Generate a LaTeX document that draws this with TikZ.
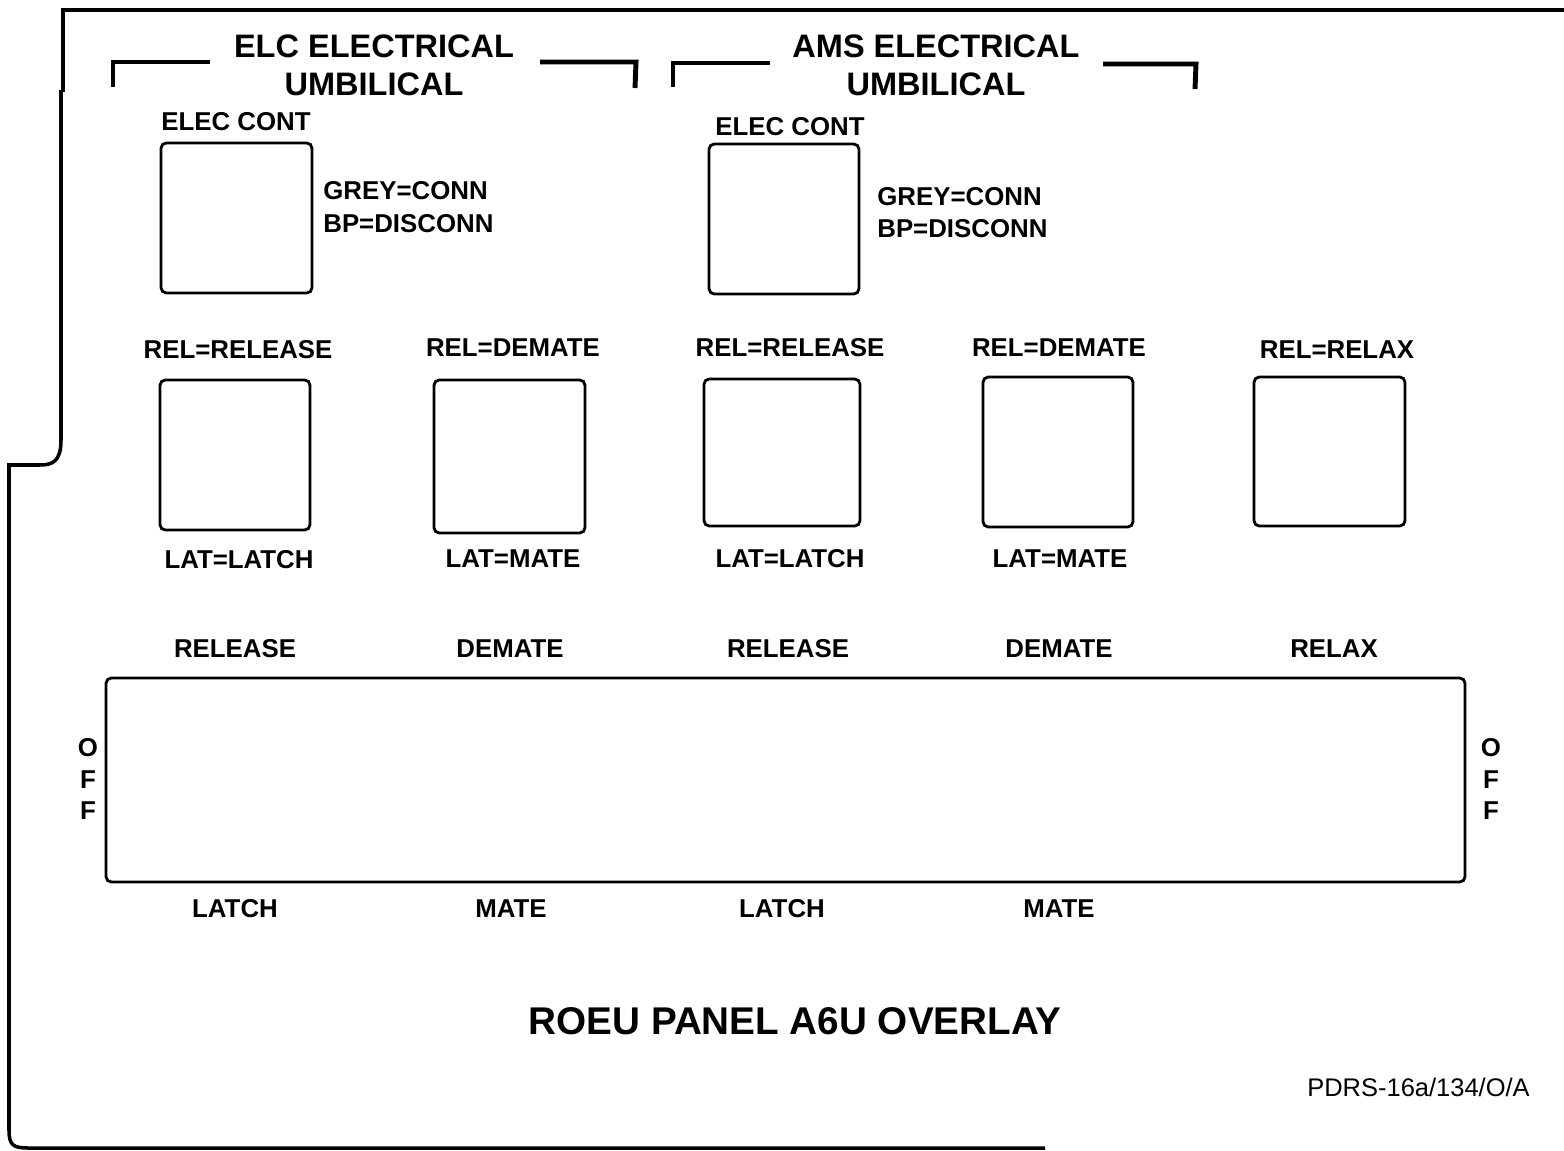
\documentclass[tikz,border=0pt]{standalone}
\usepackage{fontspec}
\setmainfont{Liberation Sans}
\tikzset{
  lbl/.style={font=\bfseries\fontsize{14.7}{18.2}\selectfont, inner sep=0pt},
  head/.style={font=\bfseries\fontsize{18.5}{21}\selectfont, inner sep=0pt},
  swbox/.style={line width=1.6pt, rounded corners=3pt},
  brk/.style={line width=2.8pt},
}
\begin{document}
\begin{tikzpicture}[x=0.02cm, y=-0.02cm]
  \useasboundingbox (0,0) rectangle (1564,1151);

  % panel outline
  \draw[line width=2.8pt] (63,92) -- (63,10) -- (1570,10);
  \draw[line width=2pt] (61,90) -- (61,440) .. controls (61,461) and (53,465) .. (40,465) -- (9,465)
    -- (9,1130) .. controls (9,1145) and (13,1148) .. (28,1148) -- (1045,1148);

  % headings with brackets
  \node[head] (elchead) at (374,46) {ELC ELECTRICAL};
  \node[head] (elcumb) at (374,84) {UMBILICAL};
  \node[head] (amshead) at (936,46) {AMS ELECTRICAL};
  \node[head] (amsumb) at (936,84) {UMBILICAL};
  \draw[brk] (113,87) -- (113,62) -- (210,62);
  \draw[brk] (540,62) -- (636,62) -- (635,88);
  \draw[brk] (673,87) -- (673,63) -- (770,63);
  \draw[brk] (1103,64) -- (1196,64) -- (1195,89);

  % electrical contact indicators
  \node[lbl] (elccont) at (236,122) {ELEC CONT};
  \draw[swbox] (161,143) rectangle (312,293);
  \node[lbl, anchor=west] (elcgrey) at (323,191) {GREY=CONN};
  \node[lbl, anchor=west] (elcbp) at (323,224) {BP=DISCONN};

  \node[lbl] (amscont) at (790,127) {ELEC CONT};
  \draw[swbox] (709,144) rectangle (859,294);
  \node[lbl, anchor=west] (amsgrey) at (877,197) {GREY=CONN};
  \node[lbl, anchor=west] (amsbp) at (877,229) {BP=DISCONN};

  % talkback indicators
  \node[lbl] (rel1) at (238,350) {REL=RELEASE};
  \draw[swbox] (160,380) rectangle (310,530);
  \node[lbl] (lat1) at (239,560) {LAT=LATCH};

  \node[lbl] (rel2) at (513,348) {REL=DEMATE};
  \draw[swbox] (434,380) rectangle (585,533);
  \node[lbl] (lat2) at (513,559) {LAT=MATE};

  \node[lbl] (rel3) at (790,348) {REL=RELEASE};
  \draw[swbox] (704,379) rectangle (860,526);
  \node[lbl] (lat3) at (790,559) {LAT=LATCH};

  \node[lbl] (rel4) at (1059,348) {REL=DEMATE};
  \draw[swbox] (983,377) rectangle (1133,527);
  \node[lbl] (lat4) at (1060,559) {LAT=MATE};

  \node[lbl] (rel5) at (1337,350) {REL=RELAX};
  \draw[swbox] (1254,377) rectangle (1405,526);

  % switch strip
  \draw[swbox] (106,678) rectangle (1465,882);
  \node[lbl] (up1) at (235,649) {RELEASE};
  \node[lbl] (up2) at (510,649) {DEMATE};
  \node[lbl] (up3) at (788,649) {RELEASE};
  \node[lbl] (up4) at (1059,649) {DEMATE};
  \node[lbl] (up5) at (1334,649) {RELAX};
  \node[lbl] (dn1) at (235,909) {LATCH};
  \node[lbl] (dn2) at (511,909) {MATE};
  \node[lbl] (dn3) at (782,909) {LATCH};
  \node[lbl] (dn4) at (1059,909) {MATE};
  \node[lbl, align=center] (offl) at (88,779) {O\\F\\F};
  \node[lbl, align=center] (offr) at (1491,779) {O\\F\\F};

  % title
  \node[font=\bfseries\fontsize{22}{26}\selectfont, inner sep=0pt] (title) at (795,1021) {ROEU PANEL A6U OVERLAY};
  \node[font=\fontsize{14.5}{17}\selectfont, inner sep=0pt, anchor=east] (docid) at (1530,1087) {PDRS-16a/134/O/A};
\end{tikzpicture}
\end{document}
